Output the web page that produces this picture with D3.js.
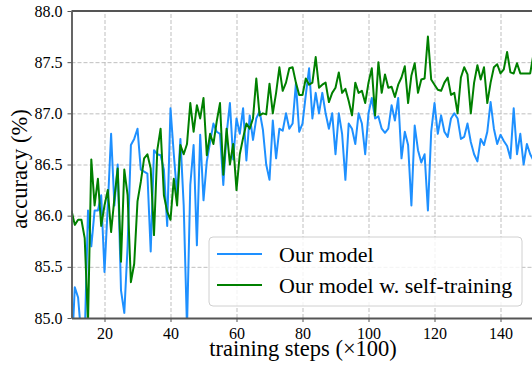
<!DOCTYPE html>
<html>
<head>
<meta charset="utf-8">
<script src="https://cdn.jsdelivr.net/npm/d3@7"></script>
<style>
    body { margin: 0; background: #fff; }
    text { font-family: 'Liberation Serif', 'DejaVu Serif', serif; fill: #000; }
    .grid line { stroke: #b8b8b8; stroke-width: 0.9; stroke-dasharray: 4,2; }
    .grid path { display: none; }
    .axis path, .axis line { stroke: #555; }
</style>
</head>
<body>
<div id="chart"></div>
<script>
'use strict';
const steps = d3.range(10, 151) // x100 training steps
const ourModel = [
    84.6, 85.3, 85.2, 84.8, 84.8, 86.05, 85.7, 86.05, 86.05, 86.2,
    85.45, 86.1, 86.8, 86.1, 86.5, 85.27, 85.05, 85.7, 86.69, 86.75,
    86.85, 86.45, 86.43, 86.41, 85.65, 86.64, 86.6, 86.59, 86.45, 85.9,
    87.05, 86.6, 86.2, 86.75, 86.1, 84.9, 86.3, 86.69, 85.71, 86.79,
    86.15, 86.53, 86.72, 86.9, 86.82, 86.8, 86.3, 86.8, 87.1, 86.55,
    86.95, 86.8, 87.05, 86.54, 86.98, 86.74, 86.95, 87.02, 86.84, 86.5,
    86.35, 86.93, 86.56, 86.85, 86.83, 87.0, 86.85, 86.9, 87.29, 86.82,
    86.9, 87.18, 87.44, 86.95, 87.2, 87.0, 87.2, 87.0, 86.85, 87.0,
    86.6, 87.0, 86.8, 86.35, 86.9, 86.85, 86.7, 87.0, 86.9, 86.6,
    87.0, 87.15, 86.95, 86.97, 86.85, 86.81, 86.85, 87.08, 86.93, 87.15,
    86.56, 86.82, 86.69, 86.1, 86.88, 86.64, 86.52, 86.6, 86.05, 86.82,
    87.1, 86.8, 86.98, 86.82, 86.77, 86.95, 87.0, 86.95, 86.75, 86.77,
    86.9, 86.72, 86.6, 86.53, 86.75, 86.69, 86.82, 87.11, 86.85, 86.7,
    86.79, 86.73, 86.68, 86.56, 87.05, 86.6, 86.8, 86.5, 86.7, 86.6,
    86.54
]
const selfTraining = [
    86.05, 85.91, 85.96, 85.96, 85.78, 84.95, 86.55, 86.1, 86.36, 85.9,
    86.1, 86.25, 85.84, 86.17, 86.46, 85.55, 86.45, 86.2, 85.35, 85.53,
    86.14, 86.33, 86.56, 86.6, 86.46, 85.81, 86.64, 86.85, 86.2, 86.04,
    85.96, 86.36, 86.1, 86.69, 86.6, 86.7, 87.1, 86.82, 87.08, 86.95,
    87.15, 86.59, 86.8, 86.7, 86.92, 87.1, 86.4, 86.85, 86.5, 86.7,
    86.25, 86.6, 86.76, 86.9, 86.85, 86.95, 87.34, 86.98, 87.0, 86.99,
    87.29, 87.0, 87.2, 87.45, 87.22, 87.3, 87.44, 87.45, 87.3, 87.18,
    87.18, 87.34, 87.28, 87.3, 87.55, 87.25, 87.28, 87.3, 87.11, 87.2,
    87.25, 87.4, 87.2, 87.24, 87.12, 86.98, 87.3, 87.2, 87.22, 87.1,
    87.3, 87.44, 86.98, 87.5, 87.2, 87.38, 87.25, 87.26, 87.16, 87.28,
    87.35, 87.46, 87.1, 87.37, 87.49, 87.2, 87.33, 87.34, 87.75, 87.33,
    87.28, 87.23, 87.22, 87.3, 87.35, 87.18, 87.2, 87.0, 87.35, 87.45,
    87.38, 87.0, 87.3, 87.47, 87.33, 87.45, 87.1, 87.3, 87.45, 87.48,
    87.39, 87.43, 87.6, 87.4, 87.39, 87.49, 87.39, 87.39, 87.39, 87.39,
    87.58
]
const xTicks = [20, 40, 60, 80, 100, 120, 140]
const yTicks = [85.0, 85.5, 86.0, 86.5, 87.0, 87.5, 88.0]
const seriesNames = ['Our model', 'Our model w. self-training']
const seriesColors = ['#1e90ff', '#008000']

const W = 532
const H = 365
const plot = { left: 71.5, right: 533.5, top: 11, bottom: 318 }

const svg = d3.select('#chart').append('svg')
    .attr('width', W)
    .attr('height', H)

const x = d3.scaleLinear()
    .domain([10, 150])
    .range([plot.left, plot.right])
const y = d3.scaleLinear()
    .domain([85, 88])
    .range([plot.bottom, plot.top])

svg.append('defs').append('clipPath') // Clip the lines to the plot area
    .attr('id', 'plotclip')
    .append('rect')
    .attr('x', plot.left)
    .attr('y', plot.top)
    .attr('width', plot.right - plot.left)
    .attr('height', plot.bottom - plot.top)

svg.append('g') // Vertical dashed gridlines
    .attr('class', 'grid')
    .attr('transform', `translate(0, ${plot.bottom})`)
    .call(d3.axisBottom(x).tickValues(xTicks).tickSize(-(plot.bottom - plot.top)).tickFormat(''))
svg.append('g') // Horizontal dashed gridlines
    .attr('class', 'grid')
    .attr('transform', `translate(${plot.left}, 0)`)
    .call(d3.axisLeft(y).tickValues(yTicks.slice(1, -1)).tickSize(-(plot.right - plot.left)).tickFormat(''))

const lineFor = function(values) {
    return d3.line()
        .x(function(d, i) { return x(steps[i]) })
        .y(function(d) { return y(d) })(values)
}
const series = [ourModel, selfTraining]
series.forEach(function(values, i) {
    svg.append('path') // Plot accuracy curve
        .attr('clip-path', 'url(#plotclip)')
        .attr('fill', 'none')
        .attr('stroke', seriesColors[i])
        .attr('stroke-width', 2)
        .attr('stroke-linejoin', 'round')
        .attr('d', lineFor(values))
})

const xAxis = svg.append('g') // Draw x axis
    .attr('class', 'axis')
    .attr('transform', `translate(0, ${plot.bottom})`)
    .call(d3.axisBottom(x).tickValues(xTicks).tickSize(4).tickSizeOuter(0).tickPadding(6))
xAxis.select('.domain').attr('stroke-width', 1.8)
xAxis.selectAll('text').style('font-size', '16px')

const yAxis = svg.append('g') // Draw y axis
    .attr('class', 'axis')
    .attr('transform', `translate(${plot.left}, 0)`)
    .call(d3.axisLeft(y).tickValues(yTicks).tickFormat(d3.format('.1f')).tickSize(4).tickSizeOuter(0).tickPadding(5))
yAxis.select('.domain').attr('stroke-width', 1.8)
yAxis.selectAll('text').style('font-size', '16px')

svg.append('line') // Top spine
    .attr('x1', plot.left)
    .attr('x2', plot.right)
    .attr('y1', plot.top)
    .attr('y2', plot.top)
    .attr('stroke', '#555')
    .attr('stroke-width', 1.8)

svg.append('text') // x axis label
    .attr('x', 303)
    .attr('y', 356)
    .attr('text-anchor', 'middle')
    .style('font-size', '22.5px')
    .text('training steps (×100)')

svg.append('text') // y axis label
    .attr('transform', 'rotate(-90)')
    .attr('x', -169)
    .attr('y', 27)
    .attr('text-anchor', 'middle')
    .style('font-size', '22.5px')
    .text('accuracy (%)')

const legend = svg.append('g') // Legend box
legend.append('rect')
    .attr('x', 209)
    .attr('y', 237)
    .attr('width', 313)
    .attr('height', 69)
    .attr('rx', 4)
    .attr('fill', 'rgba(255,255,255,0.8)')
    .attr('stroke', '#d0d0d0')
seriesNames.forEach(function(name, i) {
    const ly = 254 + i * 31
    legend.append('line')
        .attr('x1', 217)
        .attr('x2', 262)
        .attr('y1', ly)
        .attr('y2', ly)
        .attr('stroke', seriesColors[i])
        .attr('stroke-width', 2)
    legend.append('text')
        .attr('x', 279)
        .attr('y', ly + 8)
        .style('font-size', '22px')
        .text(name)
})
</script>
</body>
</html>
